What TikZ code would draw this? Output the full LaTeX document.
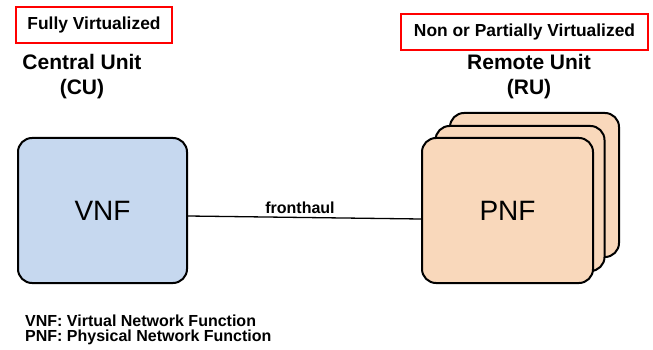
\documentclass[tikz,border=0pt]{standalone}
\usepackage{fontspec}
\setmainfont{Liberation Sans}
\begin{document}
\begin{tikzpicture}[x=1pt,y=-1pt,
  unitbox/.style={draw=black,line width=2pt,rounded corners=14pt,inner sep=0pt},
  vnfbox/.style={unitbox,fill=vnfblue},
  pnfbox/.style={unitbox,fill=pnfpeach},
  tagbox/.style={draw=red,line width=2.2pt,inner sep=0pt,font=\fontsize{17.4}{20}\selectfont\bfseries},
  heading/.style={align=center,font=\fontsize{21}{25}\selectfont\bfseries},
  boxlabel/.style={font=\fontsize{28}{32}\selectfont},
  link/.style={draw=black,line width=1.3pt}]
\definecolor{vnfblue}{HTML}{C6D8EF}
\definecolor{pnfpeach}{HTML}{F9D8BB}
\useasboundingbox (0,0) rectangle (653,350);

% tags at the top
\node[tagbox,minimum width=156pt,minimum height=36pt] (tagcu) at (94,25) {Fully Virtualized};
\node[tagbox,minimum width=247pt,minimum height=36pt] (tagru) at (524.5,32) {Non or Partially Virtualized};

% unit headings
\node[heading] (hcu) at (82,77) {Central Unit\\(CU)};
\node[heading] (hru) at (529,77) {Remote Unit\\(RU)};

% central unit
\node[vnfbox,minimum width=169pt,minimum height=145pt] (vnf) at (102.5,210.5) {};
\node[boxlabel] (vnft) at (vnf.center) {VNF};

% stacked remote units, back to front
\node[pnfbox,minimum width=169pt,minimum height=144pt] (pnf3) at (534.5,185) {};
\node[pnfbox,minimum width=169pt,minimum height=145pt] (pnf2) at (520,198.5) {};
\node[pnfbox,minimum width=171pt,minimum height=145pt] (pnf1) at (507.5,210.5) {};
\node[boxlabel] (pnft) at (pnf1.center) {PNF};

% fronthaul link
\coordinate (la) at (vnf.east |- 0,216);
\coordinate (lb) at (pnf1.west |- 0,219);
\draw[link] (la) -- (lb);
\node[font=\fontsize{16}{18}\selectfont\bfseries] (fh) at (300,208) {fronthaul};

% legend
\node[anchor=north west,align=left,inner sep=0pt,
      font=\fontsize{16}{15}\selectfont\bfseries] (legend) at (25,315)
  {VNF: Virtual Network Function\\PNF: Physical Network Function};
\end{tikzpicture}
\end{document}
